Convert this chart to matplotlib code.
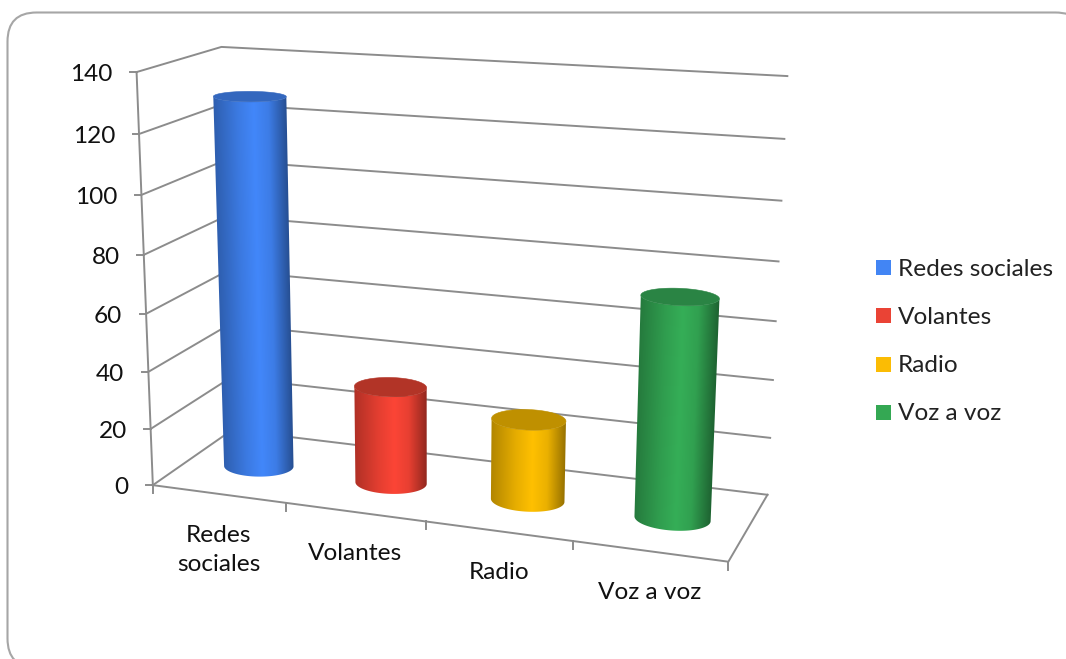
import numpy as np
import matplotlib
matplotlib.use('Agg')
import matplotlib.pyplot as plt
from matplotlib.patches import FancyBboxPatch, Polygon, Rectangle

categories = ['Redes\nsociales', 'Volantes', 'Radio', 'Voz a voz']
legend_labels = ['Redes sociales', 'Volantes', 'Radio', 'Voz a voz']
values = [129, 34, 28, 74]
y_ticks = [0, 20, 40, 60, 80, 100, 120, 140]
side_colors = ['#4287FA', '#FC4536', '#FFC000', '#35AE57']
top_colors = ['#3367BE', '#B23427', '#BF9000', '#2A8444']
legend_colors = ['#4285F4', '#EA4335', '#FBBC04', '#34A853']

GRID = '#8C8C8C'
TEXT = '#111111'

# frame calibration: (category pos, depth, value) -> pixel in the picture, with a weight
frame_world = [(0, 0, 0), (0, 0, 140), (0, 1, 0), (0, 1, 140), (4, 1, 0), (4, 1, 140),
               (4, 0, 0), (1, 0, 0), (2, 0, 0), (3, 0, 0)]
frame_pixel = [(155, 485), (136, 72), (222, 430), (222, 47), (768, 494.5), (787, 76),
               (728, 562), (287, 503), (427, 522), (573, 541)]
frame_weight = [2, 4, 1, 4, 2, 2, 2, 1, 1, 1]
bar_pos = [0.52, 1.52, 2.505, 3.50]


def fit_projection():
    rows, rhs = [], []
    for (x, d, v), (px, py), w in zip(frame_world, frame_pixel, frame_weight):
        rows.append([w * c for c in (x, d, v, 1, 0, 0, 0, 0, -px * x, -px * d, -px * v)])
        rows.append([w * c for c in (0, 0, 0, 0, x, d, v, 1, -py * x, -py * d, -py * v)])
        rhs += [w * px, w * py]
    p = np.linalg.lstsq(np.array(rows, float), np.array(rhs, float), rcond=None)[0]
    return np.append(p, 1).reshape(3, 4)


P = fit_projection()


def project(x, d, v):
    x, d, v = np.broadcast_arrays(x, d, v)
    h = P @ np.array([x, d, v, np.ones_like(x)], float)
    return h[0] / h[2], h[1] / h[2]


def cylinder(ax, pos, value, side, top, rx=0.25, rd=0.17, depth=0.48):
    # circle starts at the back (index 0), index 90 is the front
    t = np.linspace(np.pi / 2, np.pi / 2 + 2 * np.pi, 181)
    cx = pos + rx * np.cos(t)
    cd = depth + rd * np.sin(t)
    bx, by = project(cx, cd, 0)
    tx, ty = project(cx, cd, value)

    # silhouette points of the two ellipses
    bl, br = bx.argmin(), bx.argmax()
    tl, tr = tx.argmin(), tx.argmax()

    x0, x1 = min(tx.min(), bx.min()) - 2, max(tx.max(), bx.max()) + 2
    y0, y1 = ty.min() - 2, by.max() + 2
    gx, gy = np.meshgrid(np.linspace(x0, x1, int(x1 - x0) * 2), np.linspace(y0, y1, int(y1 - y0) * 2))
    left = tx[tl] + (bx[bl] - tx[tl]) * (gy - ty[tl]) / (by[bl] - ty[tl])
    right = tx[tr] + (bx[br] - tx[tr]) * (gy - ty[tr]) / (by[br] - ty[tr])
    u = 2 * (gx - left) / (right - left) - 1
    k = np.interp(u, [-1, -0.35, 0.1, 0.5, 1], [0.70, 0.90, 1.0, 0.92, 0.58])
    rgb = np.clip(k[..., None] * np.array(matplotlib.colors.to_rgb(side)), 0, 1)
    im = ax.imshow(rgb, extent=(x0, x1, y1, y0), origin='upper', aspect='auto',
                   interpolation='bilinear', zorder=3)

    # body outline: front arc of the base, then back across the top
    outline = np.column_stack([np.r_[bx[bl:br + 1], tx[tl:tr + 1][::-1]],
                               np.r_[by[bl:br + 1], ty[tl:tr + 1][::-1]]])
    im.set_clip_path(Polygon(outline, closed=True, transform=ax.transData))
    ax.add_patch(Polygon(np.column_stack([tx, ty]), closed=True, facecolor=top, edgecolor=top,
                         linewidth=0.4, zorder=4))


fig = plt.figure(figsize=(10.66, 6.59), dpi=100)
ax = fig.add_axes([0, 0, 1, 1])
plt.rcParams['font.family'] = 'Lato'

# outer rounded border, runs off the right and bottom of the picture
ax.add_patch(FancyBboxPatch((37, 42), 1018, 596, boxstyle='round,pad=29.5,rounding_size=29',
                            facecolor='white', edgecolor='#A6A6A6', linewidth=1.5, zorder=0))

for v in y_ticks:
    xs, ys = project([0, 0, 4], [0, 1, 1], v)
    ax.plot(xs, ys, color=GRID, lw=1.4, zorder=1)
    ax.plot([xs[0] - 6.5, xs[0]], [ys[0], ys[0]], color=GRID, lw=1.4, zorder=1)
    ax.text(xs[0] - 24, ys[0] + 2.5, str(v), ha='right', va='center', fontsize=17.6, color=TEXT)

xs, ys = project([0, 0], [0, 0], [0, 140])
ax.plot(xs, ys, color=GRID, lw=1.4, zorder=1)
xs, ys = project([0, 4, 4], [0, 0, 1], [0, 0, 0])
ax.plot(xs, ys, color=GRID, lw=1.4, zorder=1)
for i in range(len(categories) + 1):
    tx, ty = project(i, 0, 0)
    ax.plot([tx, tx], [ty, ty + 8], color=GRID, lw=1.4, zorder=1)

for i, label in enumerate(categories):
    lx, ly = project(i + 0.5, 0, 0)
    ax.text(lx, ly + 31, label, ha='center', va='top', fontsize=17.6, color=TEXT,
            linespacing=1.48, multialignment='center')

for pos, val, side, top in zip(bar_pos, values, side_colors, top_colors):
    cylinder(ax, pos, val, side, top)

legend_y = [267.5, 315.5, 364.5, 412.5]
for label, col, ly in zip(legend_labels, legend_colors, legend_y):
    ax.add_patch(Rectangle((876, ly - 7.5), 15, 15, facecolor=col, edgecolor='none', zorder=2))
    ax.text(898, ly + 1.5, label, ha='left', va='center', fontsize=17.6, color='#222222')

ax.set_xlim(0, 1066)
ax.set_ylim(659, 0)
ax.axis('off')
fig.savefig('out.png', dpi=100)
